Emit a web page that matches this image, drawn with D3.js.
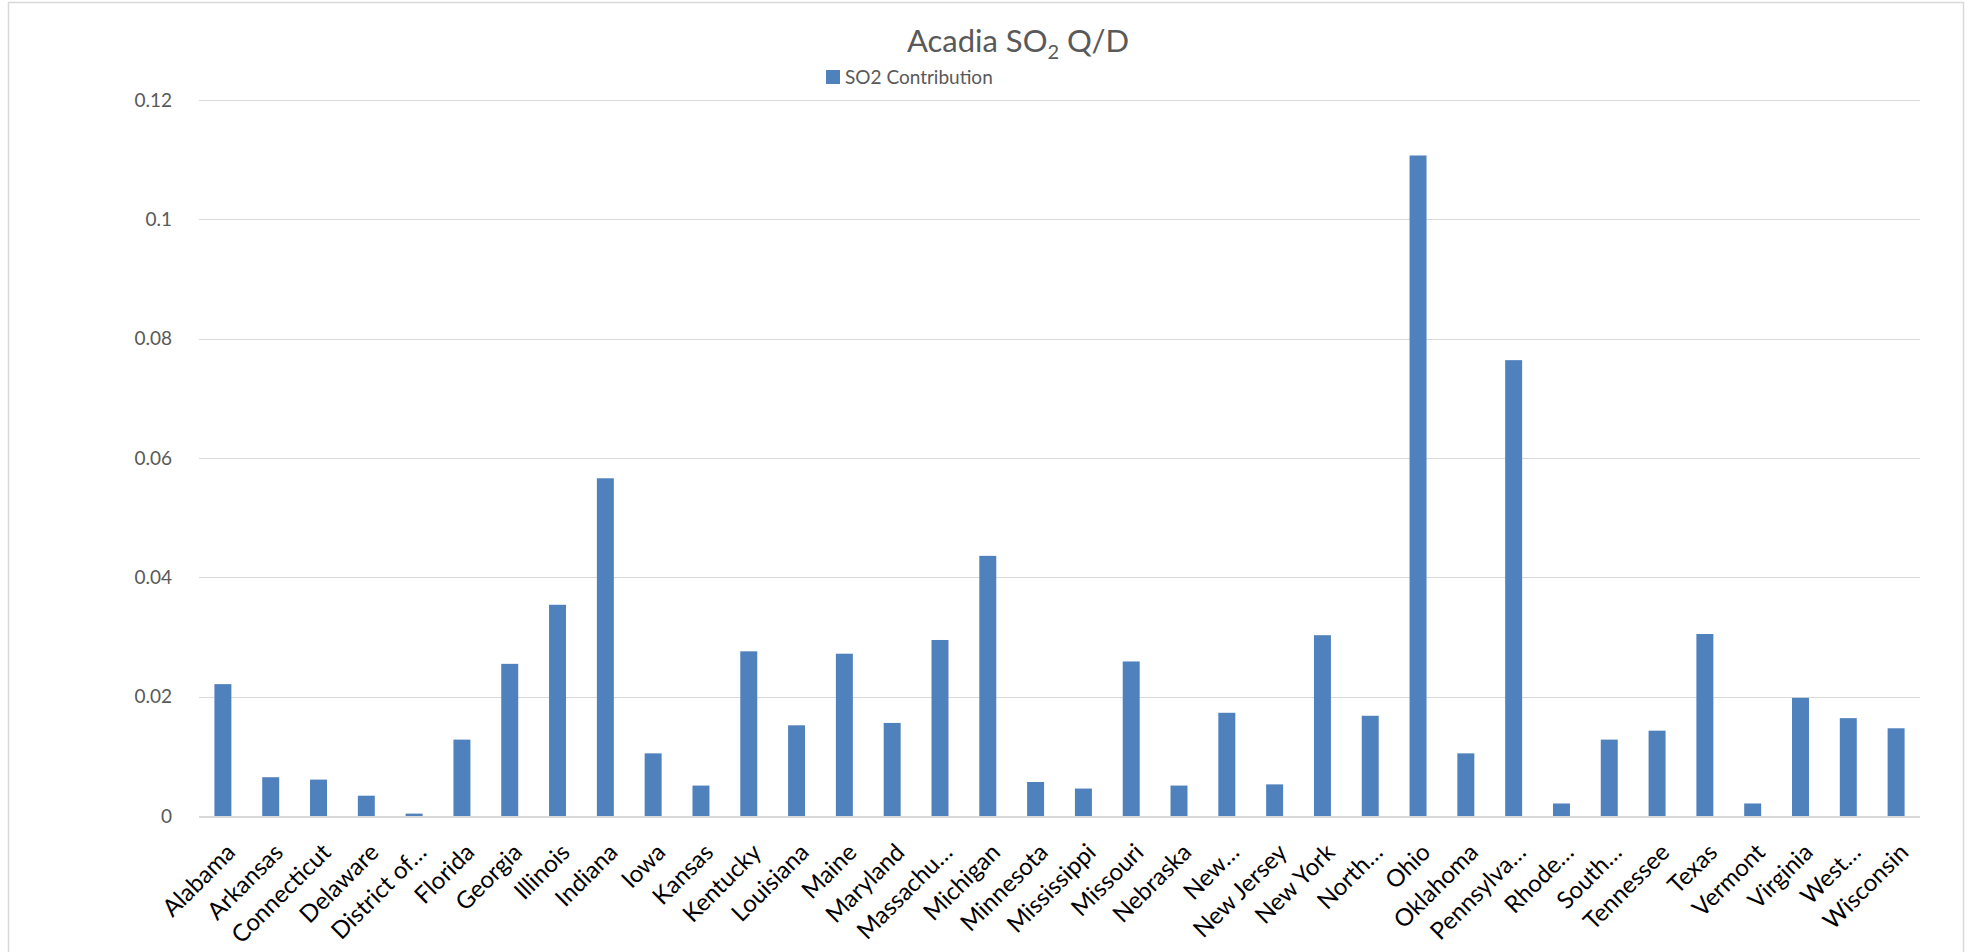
<!DOCTYPE html>
<html>
<head>
<meta charset="utf-8">
<script src="https://cdn.jsdelivr.net/npm/d3@7"></script>
<style>
  html, body { margin: 0; padding: 0; background: #fff; }
  svg { display: block; font-family: Lato, "Open Sans", sans-serif; }
</style>
</head>
<body>
<div id="chart"></div>
<script>
const STATES = [
  "Alabama", "Arkansas", "Connecticut", "Delaware", "District of…", "Florida",
  "Georgia", "Illinois", "Indiana", "Iowa", "Kansas", "Kentucky", "Louisiana",
  "Maine", "Maryland", "Massachu…", "Michigan", "Minnesota", "Mississippi",
  "Missouri", "Nebraska", "New…", "New Jersey", "New York", "North…", "Ohio",
  "Oklahoma", "Pennsylva…", "Rhode…", "South…", "Tennessee", "Texas",
  "Vermont", "Virginia", "West…", "Wisconsin"
]
const SO2 = [
  0.0221, 0.0065, 0.0061, 0.0034, 0.0004, 0.0128,
  0.0255, 0.0354, 0.0566, 0.0105, 0.0051, 0.0276, 0.0152,
  0.0272, 0.0156, 0.0295, 0.0436, 0.0057, 0.0046,
  0.0259, 0.0051, 0.0173, 0.0053, 0.0303, 0.0168, 0.1107,
  0.0105, 0.0764, 0.0021, 0.0128, 0.0143, 0.0305,
  0.0021, 0.0198, 0.0164, 0.0147
]
const Y_TICKS = [0, 0.02, 0.04, 0.06, 0.08, 0.1, 0.12]

const width = 1969
const height = 952
const margin = { left: 199, right: 49, top: 100, bottom: 136 }
const barColor = "#4f81bd"
const gridColor = "#d9d9d9"

const svg = d3.select("#chart")
  .append("svg")
  .attr("width", width)
  .attr("height", height)

// chart frame (bottom edge falls outside the picture)
svg.append("rect")
  .attr("x", 8.5)
  .attr("y", 2.5)
  .attr("width", 1955)
  .attr("height", 960)
  .attr("fill", "#fff")
  .attr("stroke", gridColor)
  .attr("stroke-width", 1.5)

const x = d3.scaleBand()
  .domain(STATES)
  .range([margin.left, width - margin.right])
  .paddingInner(0.645)
  .paddingOuter(0.3225)

const y = d3.scaleLinear()
  .domain([0, 0.12])
  .range([height - margin.bottom, margin.top])

// gridlines
svg.append("g")
  .selectAll("line")
  .data(Y_TICKS.slice(1))
  .join("line")
  .attr("x1", margin.left)
  .attr("x2", width - margin.right)
  .attr("y1", d => Math.round(y(d)) + 0.5)
  .attr("y2", d => Math.round(y(d)) + 0.5)
  .attr("stroke", gridColor)
  .attr("stroke-width", 1.2)

// y axis labels
const yAxis = svg.append("g")
  .attr("transform", `translate(${margin.left - 24},0)`)
  .call(d3.axisLeft(y).tickValues(Y_TICKS).tickSize(0).tickFormat(d => d === 0 ? "0" : String(d)))
yAxis.select(".domain").remove()
yAxis.selectAll("text")
  .attr("fill", "#595959")
  .attr("font-size", 19)
  .attr("font-family", "Lato, sans-serif")

// bars
svg.append("g")
  .selectAll("rect")
  .data(SO2)
  .join("rect")
  .attr("x", (d, i) => x(STATES[i]))
  .attr("width", x.bandwidth())
  .attr("y", d => y(d))
  .attr("height", d => y(0) - y(d))
  .attr("fill", barColor)

// baseline
svg.append("line")
  .attr("x1", margin.left)
  .attr("x2", width - margin.right)
  .attr("y1", y(0) + 1)
  .attr("y2", y(0) + 1)
  .attr("stroke", gridColor)
  .attr("stroke-width", 2)

// x labels, rotated -45
svg.append("g")
  .selectAll("text")
  .data(STATES)
  .join("text")
  .attr("transform", d => `translate(${x(d) + x.bandwidth() / 2 + 2},${y(0) + 26}) rotate(-45)`)
  .attr("text-anchor", "end")
  .attr("dy", "0.7em")
  .attr("font-size", 24)
  .attr("fill", "#000")
  .text(d => d)

// title
const title = svg.append("text")
  .attr("x", 1018)
  .attr("y", 52)
  .attr("text-anchor", "middle")
  .attr("font-size", 31)
  .attr("fill", "#595959")
title.append("tspan").text("Acadia SO")
title.append("tspan").attr("font-size", 20).attr("dy", 7).text("2")
title.append("tspan").attr("dy", -7).text(" Q/D")

// legend
const legend = svg.append("g").attr("transform", "translate(826,70)")
legend.append("rect")
  .attr("width", 14)
  .attr("height", 14)
  .attr("fill", barColor)
legend.append("text")
  .attr("x", 19)
  .attr("y", 14)
  .attr("font-size", 19)
  .attr("fill", "#595959")
  .text("SO2 Contribution")
</script>
</body>
</html>
